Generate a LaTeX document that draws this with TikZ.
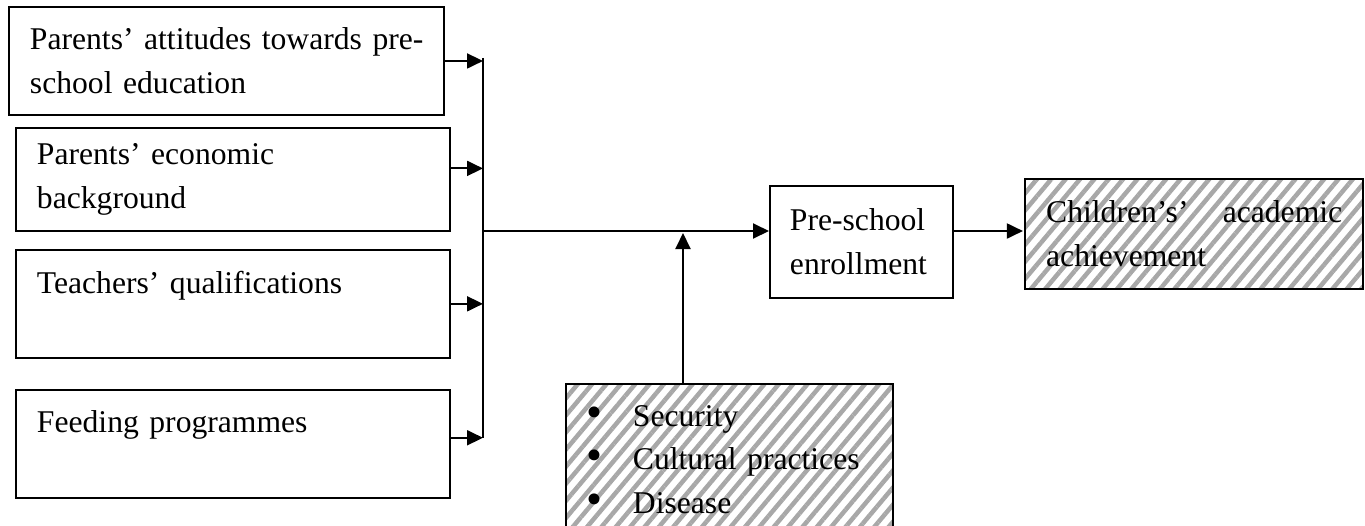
\documentclass[tikz,border=0pt]{standalone}
\usepackage{fontspec}
\setmainfont{Liberation Serif}
\usetikzlibrary{arrows.meta,calc,positioning,patterns.meta}
\definecolor{Ink}{HTML}{000000}
\definecolor{Stripe}{HTML}{A8A8A8}
\newcommand{\listdot}{\makebox[0.92cm][l]{\fontsize{26}{25}\selectfont\raisebox{-0.02cm}{\textbullet}}}
\tikzset{
  factorbox/.style={
    draw=Ink, line width=1.1pt, align=left, anchor=north west,
    inner xsep=0.42cm, inner ysep=0pt,
    font=\fontsize{18}{25}\selectfont
  },
  hatchbox/.style={
    factorbox,
    pattern={Lines[angle=50,distance=0.22cm,line width=0.09cm]},
    pattern color=Stripe
  },
  flow/.style={-{Triangle[length=0.32cm,width=0.3cm]}, line width=1.1pt, draw=Ink},
  bus/.style={line width=1.1pt, draw=Ink}
}
\begin{document}
\begin{tikzpicture}
        \clip (0,0) rectangle (27.3,-10.5);
        \node[factorbox,text width=7.86cm,minimum height=2.16cm] (attitude) at (0.16,-0.12)
          {\mbox{Parents’ attitudes towards pre-}\\school education};
        \node[factorbox,text width=7.84cm,minimum height=2.06cm,
          below right=0.22cm and 0.14cm of attitude.south west] (economic)
          {Parents’ economic\\background};
        \node[factorbox,text width=7.84cm,minimum height=2.16cm,
          below right=0.34cm and 0cm of economic.south west] (teachers)
          {Teachers’ qualifications\\\mbox{}};
        \node[factorbox,text width=7.84cm,minimum height=2.16cm,
          below right=0.6cm and 0cm of teachers.south west] (feeding)
          {Feeding programmes\\\mbox{}};
        \node[factorbox,inner xsep=0.4cm,text width=2.86cm,minimum height=2.24cm] (enrol) at (15.38,-3.7)
          {Pre-school\\enrollment};
        \node[hatchbox,text width=5.92cm,minimum height=2.2cm,
          right=1.38cm of enrol,yshift=0.16cm,anchor=west] (child)
          {Children’s’\hfill academic\\achievement};
        \node[hatchbox,text width=5.7cm,minimum height=3.04cm] (factors) at (11.3,-7.66)
          {\listdot Security\\
           \listdot Cultural practices\\
           \listdot Disease};
        \coordinate (bus) at (9.66,-4.62);
        \coordinate (merge) at (13.66,-4.62);
        \foreach \n/\s in {attitude/0,economic/0.22,teachers/0,feeding/0.12}
          \draw[flow] ([yshift=\s cm]\n.east) -- ([yshift=\s cm]\n.east -| bus);
        \draw[bus] ([yshift=0.06cm]bus |- attitude.east) -- ([yshift=0.12cm]bus |- feeding.east);
        \draw[flow] (bus) -- (bus -| enrol.west);
        \draw[flow] (enrol.east |- bus) -- (child.west |- bus);
        \draw[flow] (factors.north -| merge) -- ([yshift=-0.04cm]merge);
      \end{tikzpicture}
\end{document}
